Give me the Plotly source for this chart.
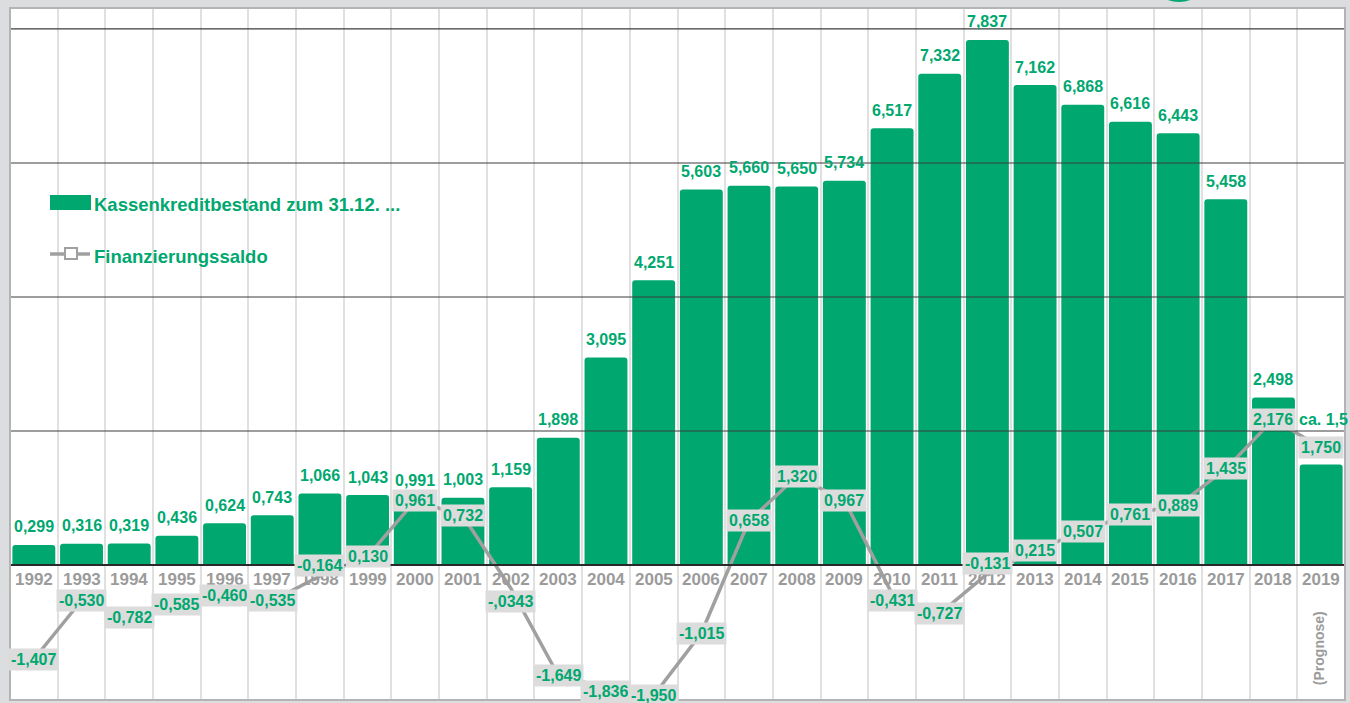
import plotly.graph_objects as go

# ---------------- data ----------------
years = [str(y) for y in range(1992, 2020)]
kassenkredit = [0.299, 0.316, 0.319, 0.436, 0.624, 0.743, 1.066, 1.043, 0.991, 1.003,
                1.159, 1.898, 3.095, 4.251, 5.603, 5.660, 5.650, 5.734, 6.517, 7.332,
                7.837, 7.162, 6.868, 6.616, 6.443, 5.458, 2.498, 1.5]
saldo = [-1.407, -0.530, -0.782, -0.585, -0.460, -0.535, -0.164, 0.130, 0.961, 0.732,
         -0.343, -1.649, -1.836, -1.950, -1.015, 0.658, 1.320, 0.967, -0.431, -0.727,
         -0.131, 0.215, 0.507, 0.761, 0.889, 1.435, 2.176, 1.750]
bar_label_override = {"2019": "ca. 1,5"}
saldo_label_override = {"2002": "-,0343"}
grid_values = [2, 4, 6, 8]
series_names = ["Kassenkreditbestand zum 31.12. ...", "Finanzierungssaldo"]
prognose_note = "(Prognose)"

# ---------------- style ----------------
GREEN = "#00a870"
GRAY_LINE = "#a0a0a0"
LABEL_BG = "#dcdcdc"
YEAR_GRAY = "#9b9b9b"
BG = "#dcdddf"
FONT = "Liberation Sans, Arial, Helvetica, sans-serif"

W, H = 1350, 703
ML, MR, MT, MB = 10, 5, 8, 3
PW, PH = W - ML - MR, H - MT - MB


def pxx(px):
    return (px - ML) / PW


def pxy(py):
    return (H - MB - py) / PH


def de(v):
    s = f"{abs(v):.3f}".replace(".", ",")
    return ("-" if v < 0 else "") + s


# label vertical nudges (pixels) for the balance labels
saldo_shift = {"1998": 10, "2002": -14, "2004": -3, "2010": -7, "2012": 10}

fig = go.Figure()
fig.add_trace(go.Bar(
    x=years, y=kassenkredit, name=series_names[0],
    marker=dict(color=GREEN, cornerradius=3, line=dict(width=0)),
    hoverinfo="x+y",
))
fig.add_trace(go.Scatter(
    x=years, y=saldo, name=series_names[1], mode="lines",
    line=dict(color=GRAY_LINE, width=3.5),
    cliponaxis=False,
))

annotations = []
# year labels just below the zero line
for i, yr in enumerate(years):
    annotations.append(dict(
        x=i, y=0, xref="x", yref="y", text=yr, showarrow=False,
        yanchor="middle", yshift=-15,
        font=dict(family=FONT, size=17, color=YEAR_GRAY, weight="bold"),
    ))
# bar value labels
for i, (yr, v) in enumerate(zip(years, kassenkredit)):
    if yr in bar_label_override:
        annotations.append(dict(
            x=i, y=v, xref="x", yref="y", text=bar_label_override[yr],
            showarrow=False, xanchor="left", yanchor="middle",
            xshift=-24, yshift=45,
            font=dict(family=FONT, size=16, color=GREEN, weight="bold"),
        ))
    else:
        annotations.append(dict(
            x=i, y=v, xref="x", yref="y", text=de(v), showarrow=False,
            yanchor="middle", yshift=18,
            font=dict(family=FONT, size=16, color=GREEN, weight="bold"),
        ))
# balance labels with gray boxes
for i, (yr, v) in enumerate(zip(years, saldo)):
    annotations.append(dict(
        x=i, y=v, xref="x", yref="y",
        text=saldo_label_override.get(yr, de(v)), showarrow=False,
        yanchor="middle", yshift=saldo_shift.get(yr, 0),
        bgcolor=LABEL_BG, borderpad=2,
        font=dict(family=FONT, size=16, color=GREEN, weight="bold"),
    ))
# forecast note
annotations.append(dict(
    x=len(years) - 1, y=0, xref="x", yref="y", text=prognose_note, showarrow=False,
    textangle=-90, yanchor="middle", yshift=-83, xshift=-2,
    font=dict(family=FONT, size=14, color=YEAR_GRAY, weight="bold"),
))
# legend texts
annotations.append(dict(
    x=pxx(92), y=pxy(204), xref="paper", yref="paper", text=series_names[0],
    showarrow=False, xanchor="left", yanchor="middle",
    font=dict(family=FONT, size=18.5, color=GREEN, weight="bold"),
))
annotations.append(dict(
    x=pxx(92), y=pxy(256), xref="paper", yref="paper", text=series_names[1],
    showarrow=False, xanchor="left", yanchor="middle",
    font=dict(family=FONT, size=18.5, color=GREEN, weight="bold"),
))

shapes = []
# horizontal grid lines drawn over the bars
for g in grid_values:
    shapes.append(dict(type="line", xref="paper", yref="y", x0=0, x1=1, y0=g, y1=g,
                       line=dict(color="#3c3c3c", width=1.2), layer="above"))
shapes.append(dict(type="line", xref="paper", yref="y", x0=0, x1=1, y0=0, y1=0,
                   line=dict(color="#2a2a2a", width=2), layer="above"))
# plot frame
shapes.append(dict(type="rect", xref="paper", yref="paper", x0=0, x1=1, y0=0, y1=1,
                   line=dict(color="#b4b4b4", width=2), layer="above"))
# legend symbols
shapes.append(dict(type="rect", xref="paper", yref="paper",
                   x0=pxx(50), x1=pxx(91), y0=pxy(210), y1=pxy(195),
                   fillcolor=GREEN, line=dict(width=0), layer="above"))
shapes.append(dict(type="line", xref="paper", yref="paper",
                   x0=pxx(50), x1=pxx(90), y0=pxy(254), y1=pxy(254),
                   line=dict(color=GRAY_LINE, width=3.5), layer="above"))
shapes.append(dict(type="rect", xref="paper", yref="paper",
                   x0=pxx(65), x1=pxx(77), y0=pxy(259), y1=pxy(248),
                   fillcolor="white", line=dict(color=GRAY_LINE, width=2), layer="above"))
# partial logo circle at the top edge
shapes.append(dict(type="circle", xref="paper", yref="paper",
                   x0=pxx(1146), x1=pxx(1212), y0=pxy(2), y1=pxy(-64),
                   fillcolor=GREEN, line=dict(width=0), layer="above"))

fig.update_layout(
    width=W, height=H,
    margin=dict(l=ML, r=MR, t=MT, b=MB),
    paper_bgcolor=BG, plot_bgcolor="white",
    showlegend=False, bargap=0.1,
    font=dict(family=FONT),
    xaxis=dict(type="category", range=[-0.5, len(years) - 0.5], tickson="boundaries",
               showgrid=True, gridcolor="#e0e0e0", gridwidth=2,
               showticklabels=False, ticks="", showline=False, zeroline=False,
               fixedrange=True),
    yaxis=dict(range=[-2.015, 8.313], showgrid=False, zeroline=False,
               showticklabels=False, ticks="", showline=False, fixedrange=True),
    annotations=annotations, shapes=shapes,
)

fig.write_html(
    "out.html",
    config={"displayModeBar": False},
    post_script="document.body.style.margin='0';document.body.style.background='%s';" % BG,
)
